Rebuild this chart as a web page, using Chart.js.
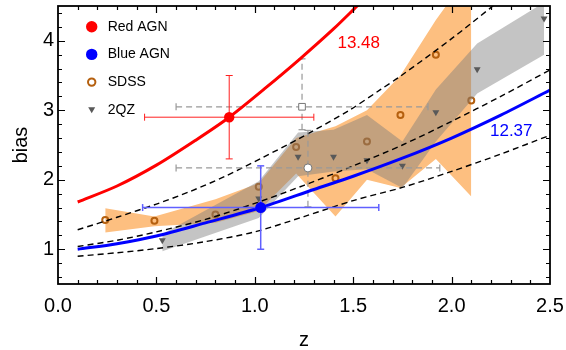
<!DOCTYPE html>
<html>
<head>
<meta charset="utf-8">
<script src="https://cdn.jsdelivr.net/npm/chart.js@4.4.1/dist/chart.umd.min.js"></script>
<style>
  html, body { margin: 0; padding: 0; background: #fff; }
  #wrap { width: 566px; height: 350px; }
</style>
</head>
<body>
<div id="wrap"><canvas id="biasChart" width="566" height="350"></canvas></div>
<script>
// axes
const zTicks = [0, 0.5, 1, 1.5, 2, 2.5];
const biasTicks = [1, 2, 3, 4];

// halo-model bias curves (log M = 13.48 red, 12.37 blue)
const redModelZ = [0.1, 0.3, 0.5, 0.7, 0.87, 1.05, 1.23, 1.4, 1.52, 1.6];
const redModelBias = [1.68, 1.91, 2.21, 2.57, 2.90, 3.31, 3.74, 4.17, 4.50, 4.72];
const blueModelZ = [0.1, 0.3, 0.5, 0.75, 1.03, 1.3, 1.5, 1.75, 2.0, 2.25, 2.5];
const blueModelBias = [1.00, 1.08, 1.19, 1.38, 1.60, 1.86, 2.05, 2.31, 2.60, 2.93, 3.29];

// dashed reference curves
const dashTopZ = [0.1, 0.3, 0.5, 0.67, 0.85, 1.04, 1.23, 1.48, 1.64, 1.74, 2.0, 2.21, 2.3];
const dashTopBias = [1.28, 1.46, 1.65, 1.83, 2.05, 2.32, 2.60, 3.00, 3.30, 3.49, 4.03, 4.50, 4.70];
const dashMidZ = [0.1, 0.3, 0.5, 0.75, 1.0, 1.25, 1.5, 1.75, 2.0, 2.25, 2.5];
const dashMidBias = [1.04, 1.13, 1.25, 1.43, 1.66, 1.92, 2.20, 2.50, 2.84, 3.20, 3.58];
const dashLowZ = [0.1, 0.3, 0.5, 0.75, 1.0, 1.25, 1.5, 1.75, 2.0, 2.25, 2.5];
const dashLowBias = [0.90, 0.95, 1.01, 1.11, 1.25, 1.47, 1.70, 1.89, 2.12, 2.37, 2.64];

// SDSS measurements and band
const sdssZ = [0.24, 0.49, 0.80, 1.02, 1.21, 1.41, 1.57, 1.74, 1.92, 2.10];
const sdssBias = [1.42, 1.41, 1.50, 1.90, 2.47, 2.02, 2.55, 2.93, 3.80, 3.14];
const sdssBandHi = [1.59, 1.47, 1.72, 1.95, 2.60, 2.77, 3.00, 3.50, 4.30, 5.00];
const sdssBandLo = [1.24, 1.33, 1.38, 1.55, 2.09, 1.47, 2.00, 1.88, 2.30, 1.76];

// 2QZ measurements and band
const qzZ = [0.53, 1.02, 1.22, 1.40, 1.57, 1.75, 1.92, 2.13, 2.47];
const qzBias = [1.13, 1.73, 2.33, 2.33, 2.28, 2.20, 2.97, 3.59, 4.32];
const qzBandHi = [1.22, 1.98, 2.68, 2.72, 2.93, 2.55, 3.30, 3.96, 4.55];
const qzBandLo = [0.97, 1.45, 2.05, 2.12, 2.15, 1.88, 2.55, 3.24, 3.80];

// AGN points: [z, bias, zLow, zHigh, biasLow, biasHigh]
const redAgn = [0.87, 2.90, 0.44, 1.30, 2.30, 3.50];
const blueAgn = [1.03, 1.60, 0.43, 1.63, 1.00, 2.20];
const squarePt = [1.24, 3.05, 0.60, 1.88, 2.72, 3.74];
const circlePt = [1.27, 2.17, 0.60, 1.94, 1.61, 2.71];

const legendLabels = ['Red AGN', 'Blue AGN', 'SDSS', '2QZ'];
const curveLabels = ['13.48', '12.37'];

const RED = '#ff0000', BLUE = '#0000ff', BROWN = '#b5600f', TRI = '#595959';
const FONT = "'Liberation Sans', Arial, Helvetica, sans-serif";

function pts(xs, ys) { return xs.map((v, i) => ({ x: v, y: ys[i] })); }

function curve(xs, ys, color, width, dash, order) {
  return { data: pts(xs, ys), borderColor: color, borderWidth: width, borderDash: dash,
    pointRadius: 0, tension: 0.3, fill: false, clip: 0, order };
}

function band(xs, hi, lo, color, order) {
  return [
    { data: pts(xs, hi), borderColor: 'transparent', borderWidth: 0, pointRadius: 0,
      backgroundColor: color, fill: '+1', tension: 0, clip: 0, order },
    { data: pts(xs, lo), borderColor: 'transparent', borderWidth: 0, pointRadius: 0,
      fill: false, tension: 0, clip: 0, order }
  ];
}

function errBars(p, color, width, dash, order) {
  const common = { borderColor: color, borderWidth: width, borderDash: dash, showLine: true,
    pointStyle: 'line', pointRadius: 3.5, pointBorderColor: color, pointBorderWidth: width,
    fill: false, tension: 0, order };
  return [
    Object.assign({ data: [{ x: p[2], y: p[1] }, { x: p[3], y: p[1] }], pointRotation: 90 }, common),
    Object.assign({ data: [{ x: p[0], y: p[4] }, { x: p[0], y: p[5] }], pointRotation: 0 }, common)
  ];
}

function marker(xs, ys, opts, order) {
  return Object.assign({ data: pts(xs, ys), showLine: false, fill: false, order }, opts);
}

const datasets = [
  ...band(sdssZ, sdssBandHi, sdssBandLo, '#fdbf80', 12),
  marker(sdssZ, sdssBias, { pointStyle: 'circle', pointRadius: 3, pointBorderWidth: 2,
    pointBorderColor: BROWN, pointBackgroundColor: 'rgba(0,0,0,0)' }, 11),
  ...band(qzZ, qzBandHi, qzBandLo, 'rgba(125,125,125,0.45)', 10),
  marker(qzZ, qzBias, { pointStyle: 'triangle', pointRotation: 180, pointRadius: 4,
    pointBorderWidth: 0, pointBackgroundColor: TRI }, 9),
  curve(dashTopZ, dashTopBias, '#000', 1.4, [6, 4], 8),
  curve(dashMidZ, dashMidBias, '#000', 1.4, [6, 4], 8),
  curve(dashLowZ, dashLowBias, '#000', 1.4, [6, 4], 8),
  ...errBars(squarePt, '#999999', 1.2, [6, 4], 7),
  ...errBars(circlePt, '#999999', 1.2, [6, 4], 7),
  marker([squarePt[0]], [squarePt[1]], { pointStyle: 'rect', pointRadius: 4.7, pointBorderWidth: 1,
    pointBorderColor: '#777', pointBackgroundColor: '#fff' }, 6),
  marker([circlePt[0]], [circlePt[1]], { pointStyle: 'circle', pointRadius: 4, pointBorderWidth: 1,
    pointBorderColor: '#777', pointBackgroundColor: '#fff' }, 6),
  curve(blueModelZ, blueModelBias, BLUE, 3, [], 5),
  curve(redModelZ, redModelBias, RED, 3, [], 5),
  ...errBars(redAgn, '#ff2020', 1, [], 4),
  ...errBars(blueAgn, '#6060ff', 1.5, [], 4),
  marker([redAgn[0]], [redAgn[1]], { pointStyle: 'circle', pointRadius: 5.2, pointBorderWidth: 0,
    pointBackgroundColor: RED }, 3),
  marker([blueAgn[0]], [blueAgn[1]], { pointStyle: 'circle', pointRadius: 5.5, pointBorderWidth: 0,
    pointBackgroundColor: BLUE }, 3)
];

// frame with inward ticks on all four sides
const frameTicks = {
  id: 'frameTicks',
  afterDatasetsDraw(chart) {
    const { ctx, chartArea: a, scales: { x, y } } = chart;
    ctx.save();
    ctx.strokeStyle = '#000';
    ctx.lineWidth = 1.2;
    ctx.beginPath();
    for (let i = 1; i < 25; i++) {
      const px = Math.round(x.getPixelForValue(i / 10)) + 0.5;
      const len = i % 5 === 0 ? 7 : 4;
      ctx.moveTo(px, a.bottom); ctx.lineTo(px, a.bottom - len);
      ctx.moveTo(px, a.top); ctx.lineTo(px, a.top + len);
    }
    for (let i = 3; i < 23; i++) {
      const v = i / 5;
      const py = Math.round(y.getPixelForValue(v)) + 0.5;
      const len = i % 5 === 0 ? 7 : 4;
      ctx.moveTo(a.left, py); ctx.lineTo(a.left + len, py);
      ctx.moveTo(a.right, py); ctx.lineTo(a.right - len, py);
    }
    ctx.stroke();
    ctx.lineWidth = 1.8;
    ctx.strokeRect(a.left, a.top, a.right - a.left, a.bottom - a.top);

    // mass labels next to the model curves
    ctx.font = '17px ' + FONT;
    ctx.textBaseline = 'middle';
    ctx.textAlign = 'left';
    ctx.fillStyle = RED;
    ctx.fillText(curveLabels[0], x.getPixelForValue(1.42), y.getPixelForValue(3.97));
    ctx.fillStyle = BLUE;
    ctx.fillText(curveLabels[1], x.getPixelForValue(2.195), y.getPixelForValue(2.70));
    ctx.restore();
  }
};

// legend box in the upper-left corner
const cornerLegend = {
  id: 'cornerLegend',
  afterDraw(chart) {
    const ctx = chart.ctx;
    const mx = 91.7, tx = 107.7, y0 = 26.7, dy = 27.7;
    ctx.save();
    ctx.font = '14px ' + FONT;
    ctx.textBaseline = 'middle';
    ctx.fillStyle = '#000';
    legendLabels.forEach((t, i) => ctx.fillText(t, tx, y0 + i * dy));

    ctx.fillStyle = RED;
    ctx.beginPath(); ctx.arc(mx, y0, 5.7, 0, Math.PI * 2); ctx.fill();
    ctx.fillStyle = BLUE;
    ctx.beginPath(); ctx.arc(mx, y0 + dy, 5.7, 0, Math.PI * 2); ctx.fill();
    ctx.strokeStyle = BROWN; ctx.lineWidth = 2;
    ctx.beginPath(); ctx.arc(mx, y0 + 2 * dy, 3.7, 0, Math.PI * 2); ctx.stroke();
    const ty = y0 + 3 * dy;
    ctx.fillStyle = TRI;
    ctx.beginPath();
    ctx.moveTo(mx - 3.5, ty - 2.5); ctx.lineTo(mx + 3.5, ty - 2.5); ctx.lineTo(mx, ty + 3.5);
    ctx.closePath(); ctx.fill();
    ctx.restore();
  }
};

new Chart(document.getElementById('biasChart'), {
  type: 'line',
  data: { datasets },
  options: {
    responsive: false,
    animation: false,
    events: [],
    devicePixelRatio: 1,
    layout: { padding: { top: 6, right: 16, left: 0, bottom: 0 } },
    plugins: { legend: { display: false }, tooltip: { enabled: false } },
    scales: {
      x: {
        type: 'linear', min: 0, max: 2.5,
        afterBuildTicks: s => { s.ticks = zTicks.map(v => ({ value: v })); },
        afterFit: s => { s.height = 66; s.paddingLeft = 0; s.paddingRight = 0; },
        grid: { display: false, drawTicks: false },
        border: { display: false },
        ticks: { color: '#000', padding: 10, maxRotation: 0, font: { family: FONT, size: 20 },
          callback: v => v.toFixed(1) },
        title: { display: true, text: 'z', color: '#000', padding: { top: 0, bottom: 0 },
          font: { family: FONT, size: 20, lineHeight: 1 } }
      },
      y: {
        type: 'linear', min: 0.5, max: 4.5,
        afterBuildTicks: s => { s.ticks = biasTicks.map(v => ({ value: v })); },
        afterFit: s => { s.width = 58; s.paddingTop = 0; s.paddingBottom = 0; },
        grid: { display: false, drawTicks: false },
        border: { display: false },
        ticks: { color: '#000', padding: 4, font: { family: FONT, size: 20 },
          callback: v => String(v) },
        title: { display: true, text: 'bias', color: '#000', padding: { top: 11, bottom: 0 },
          font: { family: FONT, size: 20, lineHeight: 1 } }
      }
    }
  },
  plugins: [frameTicks, cornerLegend]
});
</script>
</body>
</html>
